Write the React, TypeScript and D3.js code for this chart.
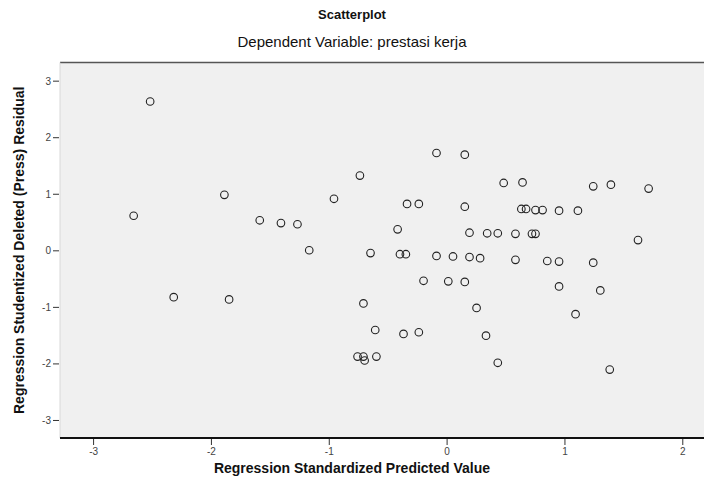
import React from "react";
import * as d3 from "d3";

const predicted: number[] = [
  -2.52, -2.66, -2.32, -1.89, -1.85, -1.59, -1.41, -1.27, -1.17, -0.96,
  -0.74, -0.71, -0.65, -0.61, -0.76, -0.71, -0.70, -0.60, -0.42, -0.40,
  -0.35, -0.34, -0.24, -0.37, -0.24, -0.20, -0.09, -0.09, 0.01, 0.05,
  0.15, 0.15, 0.15, 0.19, 0.19, 0.25, 0.28, 0.33, 0.34, 0.43,
  0.43, 0.48, 0.58, 0.58, 0.63, 0.64, 0.67, 0.72, 0.75, 0.75,
  0.81, 0.85, 0.95, 0.95, 0.95, 1.09, 1.11, 1.24, 1.24, 1.30,
  1.38, 1.39, 1.62, 1.71,
];
const residual: number[] = [
  2.64, 0.62, -0.82, 0.99, -0.86, 0.54, 0.49, 0.47, 0.01, 0.92,
  1.33, -0.93, -0.04, -1.40, -1.87, -1.87, -1.94, -1.87, 0.38, -0.06,
  -0.06, 0.83, 0.83, -1.47, -1.44, -0.53, 1.73, -0.09, -0.54, -0.10,
  1.70, 0.78, -0.55, 0.32, -0.11, -1.01, -0.13, -1.50, 0.31, 0.31,
  -1.98, 1.20, 0.30, -0.16, 0.74, 1.21, 0.74, 0.30, 0.30, 0.72,
  0.72, -0.18, 0.71, -0.19, -0.63, -1.12, 0.71, 1.14, -0.21, -0.70,
  -2.10, 1.17, 0.19, 1.10,
];
const xTicks: number[] = [-3, -2, -1, 0, 1, 2];
const yTicks: number[] = [-3, -2, -1, 0, 1, 2, 3];
const title = "Scatterplot";
const subtitle = "Dependent Variable: prestasi kerja";
const xTitle = "Regression Standardized Predicted Value";
const yTitle = "Regression Studentized Deleted (Press) Residual";

export default function App() {
  const W = 704;
  const H = 484;
  const left = 60;
  const right = 704;
  const top = 62.5;
  const bottom = 438;
  const x = d3.scaleLinear().domain([-3.285, 2.18]).range([left, right]);
  const y = d3.scaleLinear().domain([-3.31, 3.33]).range([bottom, top]);
  const font = "'Liberation Sans', Arial, sans-serif";
  return (
    <svg
      width={W}
      height={H}
      style={{ position: "absolute", left: 0, top: 0, background: "#fff" }}
      fontFamily={font}
    >
      <rect x={left} y={top} width={right - left} height={bottom - top} fill="#f0f0f0" />
      <line x1={left} x2={right} y1={top} y2={top} stroke="#555" strokeWidth={1.6} />
      <line x1={left} x2={left} y1={top} y2={bottom} stroke="#d8d8d8" strokeWidth={1} />
      <line x1={left} x2={right} y1={bottom} y2={bottom} stroke="#111" strokeWidth={1.8} />
      {yTicks.map((t) => (
        <g key={"y" + t}>
          <line x1={left - 7} x2={left - 1} y1={y(t)} y2={y(t)} stroke="#333" strokeWidth={1} />
          <text x={left - 9} y={y(t) + 3.5} fontSize={10} textAnchor="end" fill="#444">
            {t}
          </text>
        </g>
      ))}
      {xTicks.map((t) => (
        <g key={"x" + t}>
          <line x1={x(t)} x2={x(t)} y1={bottom + 1} y2={bottom + 7} stroke="#333" strokeWidth={1} />
          <text x={x(t)} y={bottom + 17} fontSize={10} textAnchor="middle" fill="#444">
            {t}
          </text>
        </g>
      ))}
      {predicted.map((v, i) => (
        <circle
          key={i}
          cx={x(v)}
          cy={y(residual[i])}
          r={3.8}
          fill="none"
          stroke="#222"
          strokeWidth={1.1}
        />
      ))}
      <text x={352} y={19} fontSize={13} fontWeight="bold" textAnchor="middle" fill="#111">
        {title}
      </text>
      <text x={352} y={47} fontSize={15} textAnchor="middle" fill="#111">
        {subtitle}
      </text>
      <text x={352} y={473} fontSize={14} fontWeight="bold" textAnchor="middle" fill="#111">
        {xTitle}
      </text>
      <text
        transform={`translate(24,${(top + bottom) / 2}) rotate(-90)`}
        fontSize={14}
        fontWeight="bold"
        textAnchor="middle"
        fill="#111"
      >
        {yTitle}
      </text>
    </svg>
  );
}
